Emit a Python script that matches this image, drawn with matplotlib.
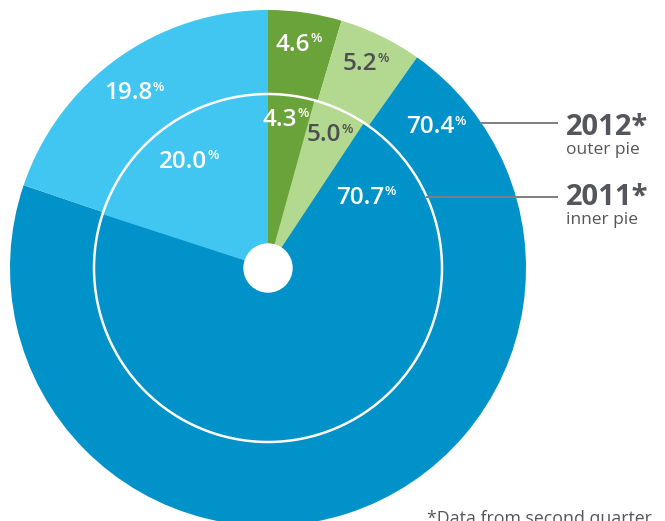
import numpy as np
import matplotlib
matplotlib.use("Agg")
import matplotlib.pyplot as plt

# data
categories = ["dark green", "light green", "blue", "light blue"]
outer_2012 = [4.6, 5.2, 70.4, 19.8]
inner_2011 = [4.3, 5.0, 70.7, 20.0]
colors = ["#69a339", "#b3d88f", "#0092c8", "#41c5f1"]
text_colors = ["white", "#4d4e53", "white", "white"]

# label positions (angle in degrees, radius as fraction of outer radius)
outer_label_pos = [(83.6, 0.87), (65.7, 0.867), (41.0, 0.833), (128.7, 0.868)]
inner_label_pos = [(85.4, 0.576), (67.2, 0.559), (37.3, 0.448), (128.7, 0.527)]

plt.rcParams["font.family"] = ["Open Sans", "DejaVu Sans"]

R_OUT = 1.0
R_IN = 174 / 258
R_HOLE = 24 / 258


def px(x, y):
    # pixel position in the picture -> data units (centre of pie = 0,0)
    return (x - 268) / 258, (268 - y) / 258


fig = plt.figure(figsize=(6.65, 5.21), dpi=100)
ax = fig.add_axes([0, 0, 1, 1])

ax.pie(outer_2012, radius=R_OUT, colors=colors, startangle=90, counterclock=False,
       wedgeprops=dict(linewidth=0))
ax.pie(inner_2011, radius=R_IN, colors=colors, startangle=90, counterclock=False,
       wedgeprops=dict(linewidth=0))
ax.add_patch(plt.Circle((0, 0), R_IN, fill=False, edgecolor="white", linewidth=1.8))
ax.add_patch(plt.Circle((0, 0), R_HOLE, color="white"))


def pct_label(value, pos, color):
    ang, r = pos
    x = r * np.cos(np.radians(ang))
    y = r * np.sin(np.radians(ang))
    t = ax.text(x, y, f"{value:.1f}", ha="center", va="center", fontsize=17.5,
                fontweight="semibold", color=color)
    ax.annotate("%", xy=(1.0, 1.02), xycoords=t, ha="left", va="top",
                fontsize=9.5, fontweight="semibold", color=color)


for v, p, c in zip(outer_2012, outer_label_pos, text_colors):
    pct_label(v, p, c)
for v, p, c in zip(inner_2011, inner_label_pos, text_colors):
    pct_label(v, p, c)

# leader lines and legend text
line_color = "#7d7e82"
text_dark = "#55565b"
x_end, y12 = px(557, 123)
_, y11 = px(557, 197)
ax.plot([np.sqrt(R_OUT**2 - y12**2), x_end], [y12, y12], color=line_color, lw=1.4)
ax.plot([np.sqrt(R_IN**2 - y11**2), x_end], [y11, y11], color=line_color, lw=1.4)

ax.text(*px(566, 135), "2012*", ha="left", va="baseline", fontsize=21,
        fontweight="bold", color=text_dark)
ax.text(*px(566, 154), "outer pie", ha="left", va="baseline", fontsize=12.5,
        color=text_dark)
ax.text(*px(566, 205), "2011*", ha="left", va="baseline", fontsize=21,
        fontweight="bold", color=text_dark)
ax.text(*px(566, 224), "inner pie", ha="left", va="baseline", fontsize=12.5,
        color=text_dark)

ax.text(*px(427, 524), "*Data from second quarter", ha="left", va="baseline",
        fontsize=12.8, color=text_dark)

ax.set_xlim(-268 / 258, (665 - 268) / 258)
ax.set_ylim((268 - 521) / 258, 268 / 258)
ax.set_aspect("auto")
ax.axis("off")

fig.savefig("out.png", dpi=100)
